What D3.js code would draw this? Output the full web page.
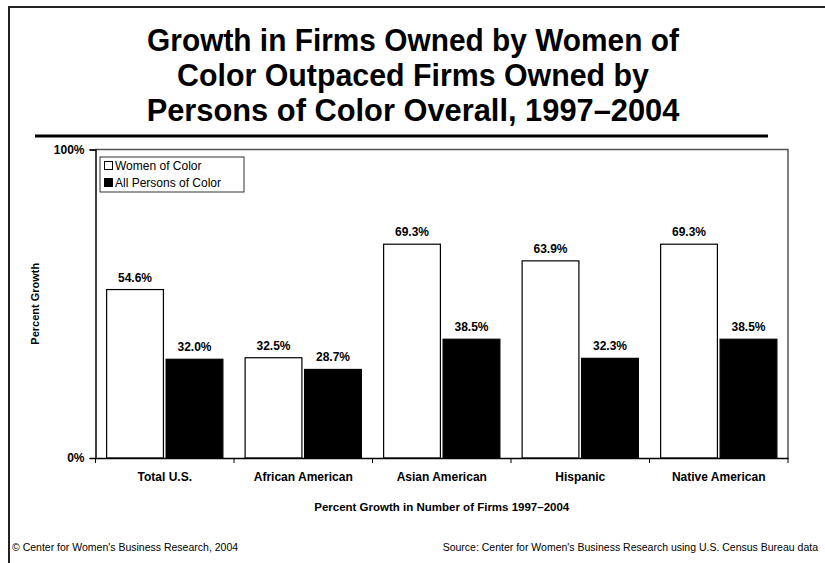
<!DOCTYPE html>
<html>
<head>
<meta charset="utf-8">
<script src="https://cdn.jsdelivr.net/npm/d3@7"></script>
<style>
  body { margin: 0; background: #fff; }
  text { font-family: "Liberation Sans", Arial, sans-serif; fill: #000; }
</style>
</head>
<body>
<svg id="chart" width="825" height="563"></svg>
<script>
// data
var categories = ["Total U.S.", "African American", "Asian American", "Hispanic", "Native American"];
var series     = ["Women of Color", "All Persons of Color"];
var women      = [54.6, 32.5, 69.3, 63.9, 69.3];
var allPersons = [32.0, 28.7, 38.5, 32.3, 38.5];
var yTicks     = [0, 100];
var titleLines = ["Growth in Firms Owned by Women of",
                  "Color Outpaced Firms Owned by",
                  "Persons of Color Overall, 1997\u20132004"];

var svg = d3.select("#chart");

// outer frame (top and left only)
svg.append("path")
        .attr("d", "M9,563 V7 H825")
        .attr("fill", "none")
        .attr("stroke", "#222")
        .attr("stroke-width", 2);

// title, squeezed horizontally like the narrow original font
var titleWidths = [532, 472, 533];
titleLines.forEach(function(line, i) {
        var t = svg.append("text")
                .attr("x", 0)
                .attr("y", 0)
                .attr("font-size", 32)
                .attr("font-weight", "bold")
                .attr("text-anchor", "middle")
                .text(line);
        var w = t.node().getComputedTextLength();
        var s = titleWidths[i] / w;
        t.attr("transform", "translate(413," + (51 + i * 35) + ") scale(" + s + ",1)");
});

svg.append("line")
        .attr("x1", 35).attr("x2", 768)
        .attr("y1", 136).attr("y2", 136)
        .attr("stroke", "#000")
        .attr("stroke-width", 3);

var plotLeft = 95.5, plotRight = 788, plotTop = 149.5, plotBottom = 458;

var x = d3.scaleBand()
        .domain(categories)
        .range([plotLeft, plotRight])
        .paddingInner(0)
        .paddingOuter(0);

var xs = d3.scaleBand()
        .domain(series)
        .range([0, x.bandwidth()])
        .paddingInner(0.045)
        .paddingOuter(0.187);

var y = d3.scaleLinear()
        .domain([0, 100])
        .range([plotBottom, plotTop]);

// plot frame top & right
svg.append("path")
        .attr("d", "M" + plotLeft + "," + plotTop + " H" + plotRight + " V" + plotBottom)
        .attr("fill", "none")
        .attr("stroke", "#555")
        .attr("stroke-width", 1.5);

var rows = categories.map(function(c, i) {
        return [{cat: c, s: series[0], v: women[i]}, {cat: c, s: series[1], v: allPersons[i]}];
});

var groups = svg.selectAll(".grp")
        .data(rows)
        .enter().append("g")
        .attr("class", "grp")
        .attr("transform", function(d) { return "translate(" + x(d[0].cat) + ",0)"; });

groups.selectAll("rect")
        .data(function(d) { return d; })
        .enter().append("rect")
        .attr("x", function(d) { return xs(d.s); })
        .attr("y", function(d) { return y(d.v); })
        .attr("width", xs.bandwidth())
        .attr("height", function(d) { return y(0) - y(d.v); })
        .attr("fill", function(d) { return d.s === series[0] ? "#fff" : "#000"; })
        .attr("stroke", "#000")
        .attr("stroke-width", 1.2);

groups.selectAll(".val")
        .data(function(d) { return d; })
        .enter().append("text")
        .attr("class", "val")
        .attr("x", function(d) { return xs(d.s) + xs.bandwidth() / 2; })
        .attr("y", function(d) { return y(d.v) - 8; })
        .attr("text-anchor", "middle")
        .attr("font-size", 12)
        .attr("font-weight", "bold")
        .text(function(d) { return d.v.toFixed(1) + "%"; });

// x axis
var xAxis = d3.axisBottom(x).tickSize(0).tickPadding(14);
var gx = svg.append("g")
        .attr("transform", "translate(0," + plotBottom + ")")
        .call(xAxis);
gx.select(".domain").attr("stroke", "#000").attr("stroke-width", 1.5);
gx.selectAll("text")
        .attr("font-size", 12)
        .attr("font-weight", "bold")
        .attr("font-family", "Liberation Sans, Arial, sans-serif");

// category boundary ticks
var bounds = categories.map(function(c) { return x(c); }).concat([plotRight]);
svg.selectAll(".btick")
        .data(bounds)
        .enter().append("line")
        .attr("class", "btick")
        .attr("x1", function(d) { return d; })
        .attr("x2", function(d) { return d; })
        .attr("y1", plotBottom)
        .attr("y2", plotBottom + 5)
        .attr("stroke", "#000");

// y axis
var yAxis = d3.axisLeft(y)
        .tickValues(yTicks)
        .tickSize(6)
        .tickPadding(5)
        .tickFormat(function(d) { return d + "%"; });
var gy = svg.append("g")
        .attr("transform", "translate(" + plotLeft + ",0)")
        .call(yAxis);
gy.select(".domain").attr("stroke", "#000").attr("stroke-width", 1.5);
gy.selectAll("line").attr("stroke", "#000");
gy.selectAll("text")
        .attr("font-size", 12)
        .attr("font-weight", "bold")
        .attr("font-family", "Liberation Sans, Arial, sans-serif");

svg.append("text")
        .attr("transform", "translate(39," + ((plotTop + plotBottom) / 2) + ") rotate(-90)")
        .attr("text-anchor", "middle")
        .attr("font-size", 11)
        .attr("font-weight", "bold")
        .text("Percent Growth");

svg.append("text")
        .attr("x", (plotLeft + plotRight) / 2)
        .attr("y", 511)
        .attr("text-anchor", "middle")
        .attr("font-size", 11.5)
        .attr("font-weight", "bold")
        .text("Percent Growth in Number of Firms 1997\u20132004");

// legend
var lg = svg.append("g").attr("transform", "translate(100,157)");
lg.append("rect")
        .attr("width", 144)
        .attr("height", 35)
        .attr("fill", "#fff")
        .attr("stroke", "#333");
series.forEach(function(s, i) {
        lg.append("rect")
                .attr("x", 4.5)
                .attr("y", 4.5 + i * 17)
                .attr("width", 8)
                .attr("height", 8)
                .attr("fill", i === 0 ? "#fff" : "#000")
                .attr("stroke", "#000");
        lg.append("text")
                .attr("x", 15)
                .attr("y", 13 + i * 17)
                .attr("font-size", 12)
                .text(s);
});

// footer
svg.append("text")
        .attr("x", 12)
        .attr("y", 551)
        .attr("font-size", 10.5)
        .text("\u00a9 Center for Women's Business Research, 2004");
svg.append("text")
        .attr("x", 818)
        .attr("y", 551)
        .attr("text-anchor", "end")
        .attr("font-size", 10.5)
        .text("Source: Center for Women's Business Research using U.S. Census Bureau data");
</script>
</body>
</html>
